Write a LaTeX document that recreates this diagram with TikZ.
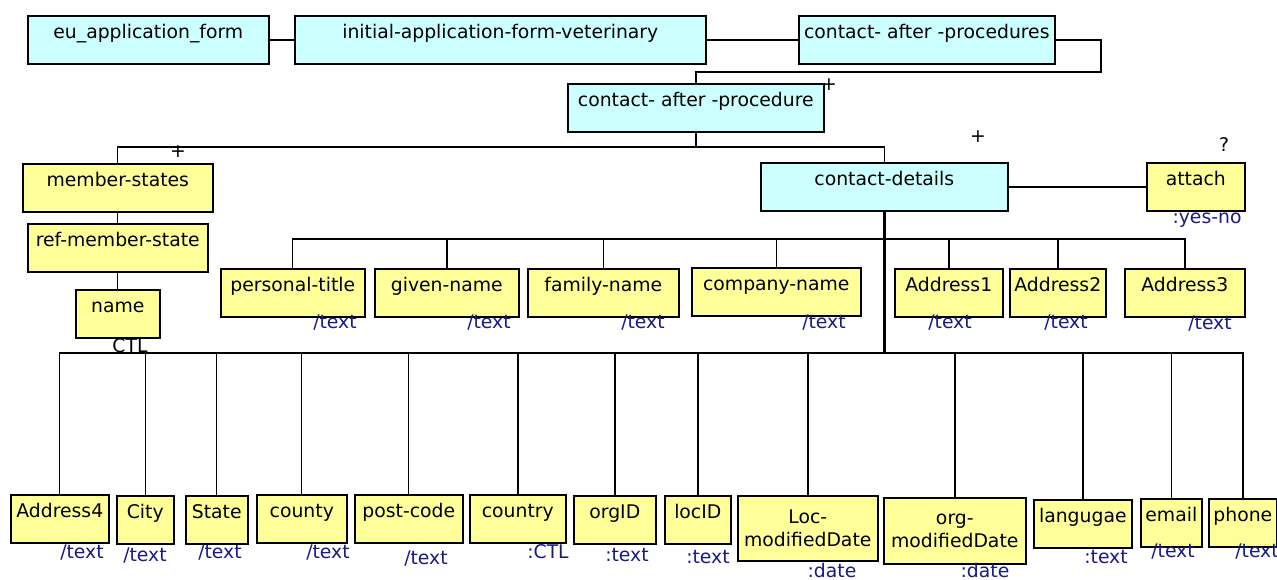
\documentclass[tikz,border=0pt]{standalone}
\usepackage{fontspec}
\setmainfont{DejaVu Sans}
\usepackage{xcolor}
\usepackage{tikz}

\definecolor{cyanfill}{RGB}{204,255,255}
\definecolor{yellowfill}{RGB}{255,255,153}
\definecolor{typeblue}{RGB}{25,25,135}

\begin{document}
\begin{tikzpicture}[
    x=0.02cm, y=-0.02cm,
    % Define styles for the boxes, labels and lines
    box/.style={draw, rectangle, line width=0.9pt, anchor=north west, align=center, inner xsep=2pt, inner ysep=3pt, font=\fontsize{10.7}{12.8}\selectfont},
    boxw/.style={minimum width=#1*0.02cm},
    boxh/.style={minimum height=#1*0.02cm},
    toptext/.style={text height=10.2pt, text depth=11.2pt},
    cbox/.style={box, toptext, fill=cyanfill},
    ybox/.style={box, toptext, fill=yellowfill},
    yboxtwo/.style={box, fill=yellowfill},
    typelabel/.style={text=typeblue, inner sep=0pt, font=\fontsize{10.7}{12.8}\selectfont},
    occurs/.style={inner sep=0pt, font=\fontsize{10.7}{12.8}\selectfont},
    link/.style={line width=0.8pt},
    trunk/.style={line width=1.5pt}
]
    \useasboundingbox (0,0) rectangle (1277,579);

    % Define the top chain
    \node[cbox, boxw=241] (eu) at (27,15) {eu\_application\_form};
    \node[cbox, boxw=411] (initial) at (294,15) {initial-application-form-veterinary};
    \node[cbox, boxw=256] (procs) at (798,15) {contact- after -procedures};
    \node[cbox, boxw=256] (proc) at (567,83) {contact- after -procedure};

    % Define the second level
    \node[ybox, boxw=190] (ms) at (22,163) {member-states};
    \node[ybox, boxw=180] (rms) at (27,223) {ref-member-state};
    \node[ybox, boxw=84] (name) at (75,289) {name};
    \node[cbox, boxw=247] (cd) at (760,162) {contact-details};
    \node[ybox, boxw=98] (attach) at (1146,162) {attach};

    % Define the upper row of contact details
    \node[ybox, boxw=144] (pt) at (220,268) {personal-title};
    \node[ybox, boxw=144] (gn) at (374,268) {given-name};
    \node[ybox, boxw=151] (fn) at (527,268) {family-name};
    \node[ybox, boxw=169] (cn) at (691,267) {company-name};
    \node[ybox, boxw=108] (a1) at (894,268) {Address1};
    \node[ybox, boxw=96] (a2) at (1009,268) {Address2};
    \node[ybox, boxw=120] (a3) at (1124,268) {Address3};

    % Define the lower row of contact details
    \node[ybox, boxw=98] (a4) at (10,494) {Address4};
    \node[ybox, boxw=57] (city) at (116,495) {City};
    \node[ybox, boxw=62] (state) at (185,495) {State};
    \node[ybox, boxw=90] (county) at (256,494) {county};
    \node[ybox, boxw=108] (postcode) at (354,494) {post-code};
    \node[ybox, boxw=96] (country) at (469,494) {country};
    \node[ybox, boxw=82] (orgid) at (573,495) {orgID};
    \node[ybox, boxw=66] (locid) at (664,495) {locID};
    \node[yboxtwo, boxw=140, boxh=65] (loc) at (737,495) {Loc-\\modifiedDate};
    \node[yboxtwo, boxw=142, boxh=66] (org) at (883,497) {org-\\modifiedDate};
    \node[ybox, boxw=98] (lang) at (1033,499) {langugae};
    \node[ybox, boxw=61] (email) at (1140,498) {email};
    \node[ybox, boxw=68] (phone) at (1208,498) {phone};

    % Type labels under the boxes
    \node[typelabel] (t-attach) at (1207,220) {:yes-no};
    \node[typelabel] (t-pt) at (335,323) {/text};
    \node[typelabel] (t-gn) at (489,323) {/text};
    \node[typelabel] (t-fn) at (643,323) {/text};
    \node[typelabel] (t-cn) at (824,323) {/text};
    \node[typelabel] (t-a1) at (950,323) {/text};
    \node[typelabel] (t-a2) at (1066,323) {/text};
    \node[typelabel] (t-a3) at (1210,324) {/text};
    \node[typelabel] (t-a4) at (82,553) {/text};
    \node[typelabel] (t-city) at (145,556) {/text};
    \node[typelabel] (t-state) at (220,553) {/text};
    \node[typelabel] (t-county) at (328,553) {/text};
    \node[typelabel] (t-postcode) at (426,559) {/text};
    \node[typelabel] (t-country) at (548,552) {:CTL};
    \node[typelabel] (t-orgid) at (627,555) {:text};
    \node[typelabel] (t-locid) at (708,557) {:text};
    \node[typelabel] (t-loc) at (832,570) {:date};
    \node[typelabel] (t-org) at (985,570) {:date};
    \node[typelabel] (t-lang) at (1106,557) {:text};
    \node[typelabel] (t-email) at (1173,552) {/text};
    \node[typelabel] (t-phone) at (1257,552) {/text};
    \node[occurs] (t-name) at (130,346) {CTL};

    % Occurrence marks
    \node[occurs] (occ-proc) at (829,85) {+};
    \node[occurs] (occ-ms) at (178,152) {+};
    \node[occurs] (occ-cd) at (978,137) {+};
    \node[occurs] (occ-attach) at (1224,145) {?};

    % Draw the connectors
    \draw[link] (eu.east) -- (initial.west);
    \draw[link] (initial.east) -- (procs.west);
    \coordinate (bend1) at (1101,72);
    \draw[link] (procs.east) -| (bend1) -| (proc.north);

    \coordinate (split1) at (proc.south |- 0,147);
    \draw[link] (proc.south) -- (split1);
    \draw[link] (ms.north) |- (split1) -| (cd.north);
    \draw[link] (ms.south) -- (rms.north);
    \draw[link] (rms.south) -- (name.north);
    \draw[link] (cd.east) -- (attach.west);

    \coordinate (ubus) at (cd.south |- 0,239);
    \coordinate (lbus) at (cd.south |- 0,353);
    \draw[trunk] (cd.south) -- (lbus);
    \draw[trunk] (ubus) -- (ubus -| pt.north);
    \draw[trunk] (lbus) -- (lbus -| a4.north);
    \foreach \n in {pt,gn,fn,cn,a1,a2,a3}
        \draw[link] (ubus) -| (\n.north);
    \foreach \n in {a4,city,state,county,postcode,country,orgid,locid,loc,org,lang,email,phone}
        \draw[link] (lbus) -| (\n.north);
\end{tikzpicture}
\end{document}
